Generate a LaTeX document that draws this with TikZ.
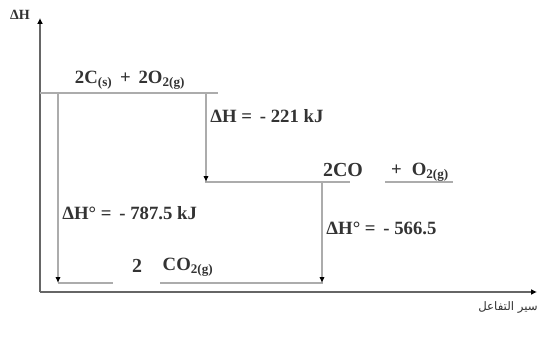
\documentclass[tikz,border=0pt]{standalone}
\usepackage{fontspec}
\setmainfont{Liberation Serif}
\newfontfamily\arabicfont[Script=Arabic]{DejaVu Sans}
\TeXXeTstate=1
\usetikzlibrary{arrows.meta,positioning,calc}
\tikzset{
  axis/.style={-{Latex[length=5pt,width=5pt,black]}, line width=1.8pt, draw=gray!80!black},
  level/.style={line width=1.4pt, draw=gray!65},
  drop/.style={-{Latex[length=5pt,width=4.5pt,black]}, line width=1.2pt, draw=gray!65},
  txt/.style={font=\fontsize{16}{18}\selectfont\bfseries, text=black!80, inner sep=1pt},
  dhtxt/.style={txt, anchor=west}
}

\begin{document}
\begin{tikzpicture}[x=0.03cm, y=-0.03cm]
  \useasboundingbox (0,0) rectangle (543,340);
  % axes
  \coordinate (o) at (40,292);
  \coordinate (ytop) at (40,18);
  \coordinate (xend) at (537,292);
  \draw[axis] (o) -- (ytop);
  \draw[axis] (o) -- (xend);
  \node[txt, font=\fontsize{12}{14}\selectfont\bfseries] (dH) at (20,15) {ΔH};
  \node[txt, font=\fontsize{10}{12}\selectfont\arabicfont] (xlab) at (508,307) {\beginR سير التفاعل\endR};

  % levels
  \coordinate (a1) at (40,93);  \coordinate (a2) at (218,93);
  \coordinate (b1) at (205,182); \coordinate (b2) at (350,182);
  \coordinate (c1) at (385,182); \coordinate (c2) at (453,182);
  \coordinate (d1) at (58,283);  \coordinate (d2) at (113,283);
  \coordinate (e1) at (160,283); \coordinate (e2) at (323,283);
  \draw[level] (a1) -- (a2);
  \draw[level] (b1) -- (b2);
  \draw[level] (c1) -- (c2);
  \draw[level] (d1) -- (d2);
  \draw[level] (e1) -- (e2);

  % enthalpy changes
  \coordinate (p1) at (58,93);   \coordinate (q1) at (58,283);
  \coordinate (p2) at (206,93);  \coordinate (q2) at (206,182);
  \coordinate (p3) at (322,182); \coordinate (q3) at (322,283);
  \draw[drop] (p1) -- (q1);
  \draw[drop] (p2) -- (q2);
  \draw[drop] (p3) -- (q3);

  % species and values
  \node[txt] (r) at (130,80) {2C\textsubscript{(s)} \,+\, 2O\textsubscript{2(g)}};
  \node[dhtxt] (h1) at (209,116) {ΔH = \,- 221 kJ};
  \node[txt, font=\fontsize{17}{19}\selectfont\bfseries] (co) at (343,170) {2CO};
  \node[txt] (ox) at (420,172) {+ \;O\textsubscript{2(g)}};
  \node[dhtxt] (h2) at (325,228) {ΔH° = \,- 566.5};
  \node[dhtxt] (h3) at (61,213) {ΔH° = \,- 787.5 kJ};
  \node[txt, font=\fontsize{17}{19}\selectfont\bfseries] (two) at (137,266) {2};
  \node[txt] (co2) at (188,267) {CO\textsubscript{2(g)}};
\end{tikzpicture}
\end{document}
